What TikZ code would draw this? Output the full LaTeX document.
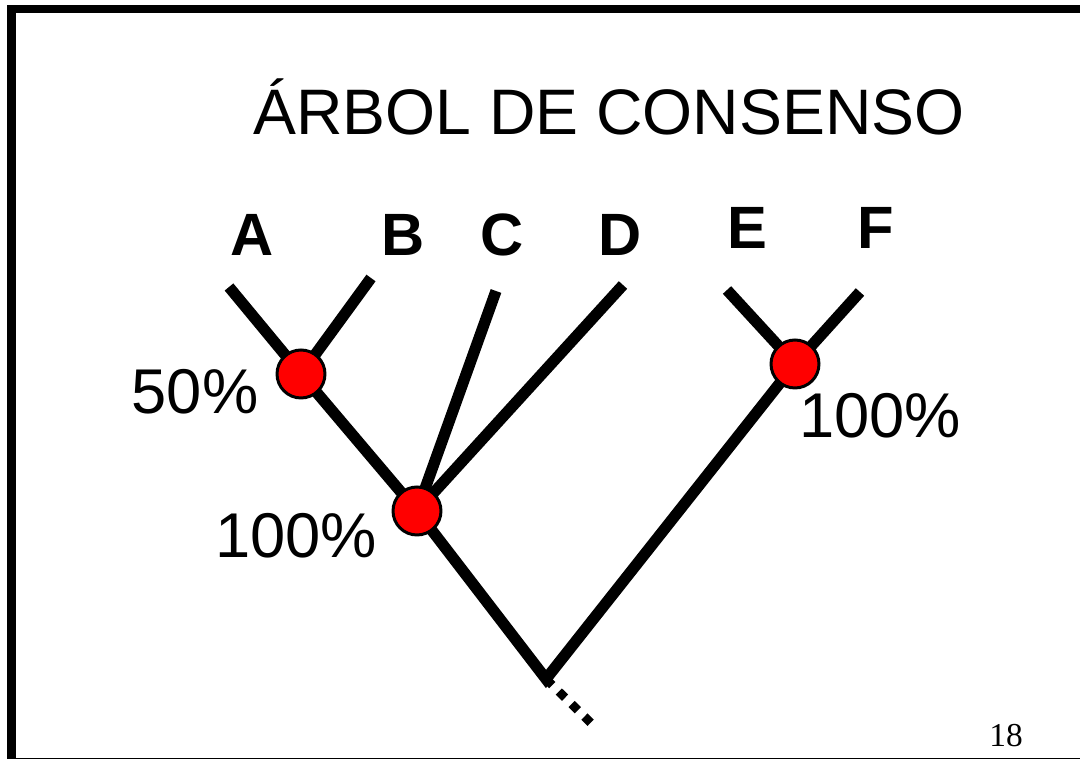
\documentclass[tikz,border=0pt]{standalone}
\usepackage{fontspec}
\setmainfont{Liberation Sans}
\newfontfamily\pagefont{Liberation Serif}
\begin{document}
\begin{tikzpicture}[x=0.02cm, y=-0.02cm]
        \tikzstyle{branch} = [line width=6.4pt, line cap=butt];
        \tikzstyle{support} = [circle, draw, fill=red, line width=1.7pt, minimum size=0.96cm, inner sep=0pt];
        \tikzstyle{taxon} = [anchor=base, inner sep=0pt, font=\fontsize{34}{40}\selectfont\bfseries];
        \tikzstyle{percent} = [anchor=base, inner sep=0pt, font=\fontsize{36}{42}\selectfont];

        \useasboundingbox (0,0) rectangle (1080,759);
        \draw [line width=4.6pt] (11.5,9) rectangle (1095,762);

        \node(title)[anchor=base, inner sep=0pt, font=\fontsize{36.6}{42}\selectfont] at (609,135){ÁRBOL DE CONSENSO};

        \node(labelA)[taxon] at (252,256){A};
        \node(labelB)[taxon] at (403,256){B};
        \node(labelC)[taxon] at (502,256){C};
        \node(labelD)[taxon] at (620,256){D};
        \node(labelE)[taxon] at (747,249){E};
        \node(labelF)[taxon] at (876,249){F};

        \coordinate(tipA) at (229,287);
        \coordinate(tipB) at (371,278);
        \coordinate(tipC) at (496,291);
        \coordinate(tipD) at (623,285);
        \coordinate(tipE) at (727,290);
        \coordinate(tipF) at (860,292);
        \coordinate(jAB) at (301,374);
        \coordinate(jABCD) at (417,511);
        \coordinate(jEF) at (795,364);
        \coordinate(root) at (546,679);
        \coordinate(stem) at (595,727);

        \draw [branch] (tipA) -- (jAB);
        \draw [branch] (tipB) -- (jAB);
        \draw [branch] (jAB) -- (jABCD);
        \draw [branch] (tipC) -- (jABCD);
        \draw [branch] (tipD) -- (jABCD);
        \draw [branch] (tipE) -- (jEF);
        \draw [branch] (tipF) -- (jEF);
        \draw [branch, line join=miter] (jABCD) -- (root) -- (jEF);
        \draw [line width=5pt, dash pattern=on 5pt off 5.2pt] (root) -- (stem);

        \node(nodeAB)[support] at (jAB){};
        \node(nodeABCD)[support] at (jABCD){};
        \node(nodeEF)[support] at (jEF){};

        \node(pctAB)[percent] at (195,414){50\%};
        \node(pctABCD)[percent] at (296,558){100\%};
        \node(pctEF)[percent] at (880,438){100\%};

        \node(pagenum)[anchor=base, inner sep=0pt, font=\pagefont\fontsize{19}{22}\selectfont] at (1006,747){18};
    \end{tikzpicture}
\end{document}
